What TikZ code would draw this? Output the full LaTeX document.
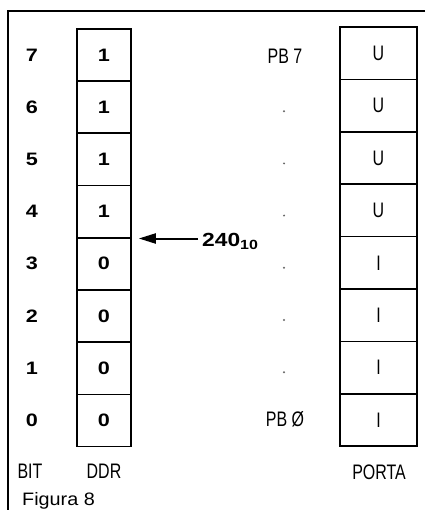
\documentclass[tikz,border=0pt]{standalone}
\usepackage{fontspec}
\setmainfont{Liberation Sans}
\newfontfamily\cond[FakeStretch=0.76]{Liberation Sans}
\newfontfamily\wideb[FakeStretch=1.2]{Liberation Sans Bold}
\newfontfamily\widen[FakeStretch=1.1]{Liberation Sans}
\usetikzlibrary{arrows.meta,calc}
\begin{document}
\begin{tikzpicture}[x=1pt,y=-1pt,
  cell/.style={draw,line width=1.6pt,minimum width=54pt,minimum height=52.2pt,inner sep=0pt,font=\fontsize{18}{18}\selectfont\wideb},
  pcell/.style={draw,line width=1.6pt,minimum width=77pt,minimum height=52.4pt,inner sep=0pt,font=\fontsize{21}{21}\selectfont\cond},
  bitlab/.style={font=\fontsize{18}{18}\selectfont\wideb,inner sep=0pt},
  plab/.style={font=\fontsize{21}{21}\selectfont\cond,inner sep=0pt},
  dotlab/.style={circle,fill=black!60,inner sep=0pt,minimum size=2.2pt}]
\useasboundingbox (0,0) rectangle (425,510);
\fill[white] (0,0) rectangle (425,510);
\draw[line width=1.6pt] (425,11) -- (8,11) -- (8,510);
% DDR cells
\foreach \i/\v in {7/1,6/1,5/1,4/1,3/0,2/0,1/0,0/0}{
  \node[cell] (d\i) at (104,{55+52.2*(7-\i)}) {\v};
  \node[bitlab] (b\i) at (32,{55+52.2*(7-\i)}) {\i};
}
% PORTA cells
\foreach \i/\v in {7/U,6/U,5/U,4/U,3/I,2/I,1/I,0/I}{
  \node[pcell] (p\i) at (378.5,{53.2+52.4*(7-\i)}) {\v};
}
\node[plab] (pb7) at (285,56) {PB 7};
\node[plab] (pb0) at (285,419) {PB Ø};
\foreach \i in {6,5,4,3,2,1}{
  \node[dotlab] (dot\i) at (284,{55+52.2*(7-\i)+4}) {};
}
\node[plab] (bit) at (30,471) {BIT};
\node[plab] (ddr) at (104,471) {DDR};
\node[plab] (porta) at (379,472) {PORTA};
\node[font=\fontsize{18}{18}\selectfont\widen,inner sep=0pt,anchor=base west] (fig) at (22,505) {Figura 8};
% arrow
\node[font=\fontsize{19}{19}\selectfont\wideb,inner sep=0pt,anchor=base west] (t240) at (202,246) {240\textsubscript{10}};
\coordinate (tip) at ($(d4.south east)+(7,0)$);
\draw[line width=2pt,-{Triangle[length=17pt,width=10pt]}] ([xshift=-4pt]t240.west |- tip) -- (tip);
\end{tikzpicture}
\end{document}
